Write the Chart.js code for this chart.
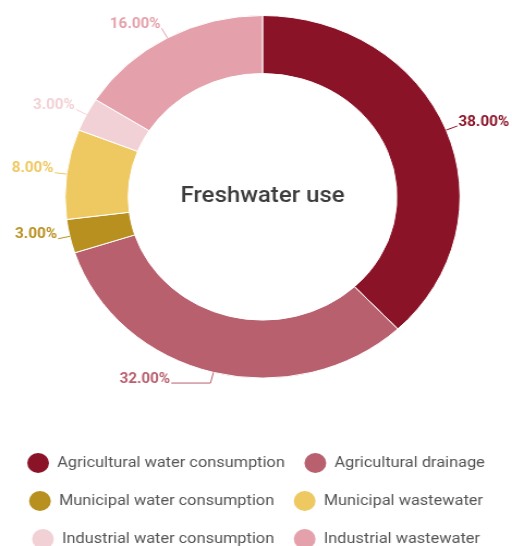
<!DOCTYPE html>
<html>
<head>
<meta charset="utf-8">
<script src="https://cdn.jsdelivr.net/npm/chart.js@4"></script>
<style>
  html, body { margin: 0; padding: 0; background: #fff; overflow: hidden; }
  #wrap {
    position: relative;
    width: 470px;
    height: 560px;
    transform: scaleX(1.0894);
    transform-origin: 0 0;
  }
</style>
</head>
<body>
<div id="wrap"><canvas id="waterChart"></canvas></div>
<script>
// Freshwater use shares (percent)
const categories = [
  "Agricultural water consumption",
  "Agricultural drainage",
  "Municipal water consumption",
  "Municipal wastewater",
  "Industrial water consumption",
  "Industrial wastewater",
];
const shares = [38, 32, 3, 8, 3, 16];
const colors = ["#8b1327", "#b8606e", "#b8901f", "#eec962", "#f2d1d6", "#e5a1ab"];
const centerTitle = "Freshwater use";

// draws "xx.00%" labels with short leader lines outside each slice
const sliceLabels = {
  id: "sliceLabels",
  afterDraw(chart) {
    const ctx = chart.ctx;
    const meta = chart.getDatasetMeta(0);
    ctx.save();
    ctx.font = "bold 14px Roboto";
    ctx.textBaseline = "middle";
    meta.data.forEach((arc, i) => {
      const p = arc.getProps(["x", "y", "startAngle", "endAngle", "outerRadius"], true);
      const mid = (p.startAngle + p.endAngle) / 2;
      const dx = Math.cos(mid), dy = Math.sin(mid);
      const x0 = p.x + dx * p.outerRadius, y0 = p.y + dy * p.outerRadius;
      const x1 = p.x + dx * (p.outerRadius + 11), y1 = p.y + dy * (p.outerRadius + 11);
      const right = dx >= 0;
      // slices near top/bottom get a horizontal elbow so the text clears the ring
      const elbow = Math.abs(dx) < 0.4 ? 36 : 0;
      const x2 = x1 + (right ? elbow : -elbow);
      ctx.strokeStyle = colors[i];
      ctx.lineWidth = 1;
      ctx.beginPath();
      ctx.moveTo(x0, y0);
      ctx.lineTo(x1, y1);
      ctx.lineTo(x2, y1);
      ctx.stroke();
      ctx.fillStyle = colors[i];
      ctx.textAlign = right ? "left" : "right";
      ctx.fillText(shares[i].toFixed(2) + "%", x2 + (right ? 1 : -1), y1 - 4);
    });
    // center title
    const c = meta.data[0];
    ctx.font = "500 22px Roboto";
    ctx.fillStyle = "#3d3d3d";
    ctx.textAlign = "center";
    ctx.fillText(centerTitle, c.x, c.y);
    ctx.restore();
  },
};

// move the legend so it is centred on the page, not on the padded chart
const legendShift = {
  id: "legendShift",
  afterLayout(chart) {
    chart.legend.left -= 6;
    chart.legend.right -= 6;
  },
};

const ctx = document.getElementById("waterChart").getContext("2d");
new Chart(ctx, {
  type: "doughnut",
  data: {
    labels: categories,
    datasets: [
      {
        data: shares,
        backgroundColor: colors,
        borderColor: "#ffffff",
        borderWidth: 1,
      },
    ],
  },
  options: {
    responsive: true,
    maintainAspectRatio: false,
    animation: false,
    cutout: "68%",
    layout: { padding: { top: 15, left: 12, bottom: 1 } },
    plugins: {
      tooltip: { enabled: false },
      legend: {
        position: "bottom",
        title: { display: true, text: "", padding: { top: 42, bottom: 0 } },
        labels: {
          font: { family: "Roboto", size: 15 },
          color: "#555555",
          boxWidth: 20,
          boxHeight: 20,
          padding: 18,
          generateLabels(chart) {
            const base = Chart.overrides.doughnut.plugins.legend.labels.generateLabels(chart);
            return base.map((item) => ({ ...item, borderRadius: 10, lineWidth: 0 }));
          },
        },
      },
    },
  },
  plugins: [sliceLabels, legendShift],
});
</script>
</body>
</html>
